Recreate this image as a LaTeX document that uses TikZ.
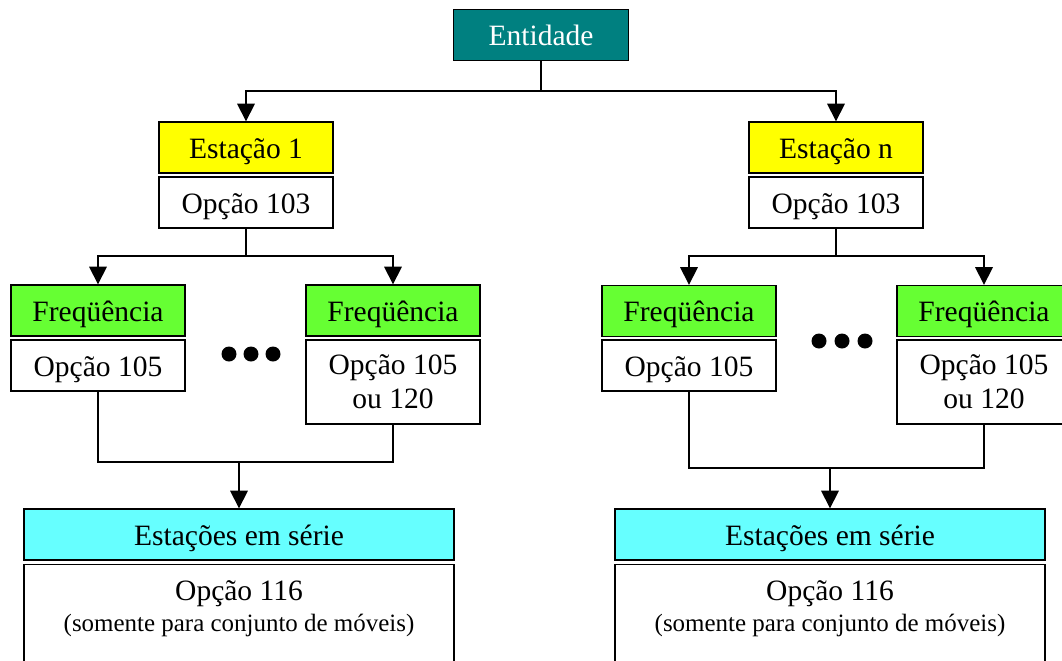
\documentclass[tikz,border=0pt]{standalone}
\usepackage{fontspec}
\setmainfont{Liberation Serif}
\usetikzlibrary{arrows.meta}

\definecolor{entcolor}{RGB}{0,128,128}
\definecolor{estcolor}{RGB}{255,255,0}
\definecolor{frqcolor}{RGB}{102,255,51}
\definecolor{sercolor}{RGB}{102,255,255}

\begin{document}
\begin{tikzpicture} [x = 0.02cm, y = -0.02cm,
  box/.style = {draw = black, line width = 0.8pt, inner sep = 0pt, minimum width = 3.48cm, minimum height = 1.02cm, align = center, font = \fontsize{16.8}{19.5}\selectfont},
  one/.style = {box, text height = 0.42cm, text depth = 0pt},
  arr/.style = {-{Triangle[width = 10pt, length = 10pt]}, line width = 0.9pt},
  line/.style = {line width = 0.9pt}]
\path[use as bounding box, clip] (0, 0) rectangle (1062, 660);
% top
\node[one, fill = entcolor, text = white, minimum width = 3.5cm] (ent) at (541, 35){Entidade};
\coordinate (top) at (541, 91);
% left station
\node[one, fill = estcolor] (est1) at (246, 147.5){Estação 1};
\node[one, fill = white] (op1) at (246, 202.5){Opção 103};
\coordinate (b1) at (246, 256);
\node[one, fill = frqcolor] (frq1a) at (98, 310.5){Freqüência};
\node[one, fill = white] (op1a) at (98, 365.5){Opção 105};
\node[one, fill = frqcolor] (frq1b) at (393, 310.5){Freqüência};
\node[box, fill = white, minimum height = 1.68cm] (op1b) at (393, 382){Opção 105\\ou 120};
\coordinate (j1) at (239, 462);
\node[one, fill = sercolor, minimum width = 8.6cm] (ser1) at (239, 534.5){Estações em série};
\node[box, fill = white, minimum width = 8.6cm, minimum height = 2.8cm, anchor = north] (op1c) at (239, 564){};
\node[align = center, anchor = north, inner sep = 0pt, font = \fontsize{16.8}{17.6}\selectfont] (txt1) at (239, 580){Opção 116\\{\fontsize{14.2}{17}\selectfont (somente para conjunto de móveis)}};
% right station
\node[one, fill = estcolor] (estn) at (836, 147.5){Estação n};
\node[one, fill = white] (opn) at (836, 202.5){Opção 103};
\coordinate (b2) at (836, 256);
\node[one, fill = frqcolor] (frq2a) at (689, 311){Freqüência};
\node[one, fill = white] (op2a) at (689, 365.5){Opção 105};
\node[one, fill = frqcolor] (frq2b) at (984, 311){Freqüência};
\node[box, fill = white, minimum height = 1.68cm] (op2b) at (984, 382){Opção 105\\ou 120};
\coordinate (j2) at (830, 468);
\node[one, fill = sercolor, minimum width = 8.6cm] (ser2) at (830, 534.5){Estações em série};
\node[box, fill = white, minimum width = 8.6cm, minimum height = 2.8cm, anchor = north] (op2c) at (830, 564){};
\node[align = center, anchor = north, inner sep = 0pt, font = \fontsize{16.8}{17.6}\selectfont] (txt2) at (830, 580){Opção 116\\{\fontsize{14.2}{17}\selectfont (somente para conjunto de móveis)}};
% dots
\foreach \x in {229, 251, 273} \fill[black] (\x, 354) circle [radius = 0.15cm];
\foreach \x in {819, 842, 865} \fill[black] (\x, 341) circle [radius = 0.15cm];
% connectors
\draw[line] (ent) -- (top);
\draw[arr] (top) -| (est1);
\draw[arr] (top) -| (estn);
\draw[line] (op1) -- (b1);
\draw[arr] (b1) -| (frq1a);
\draw[arr] (b1) -| (frq1b);
\draw[line] (op1a) |- (j1);
\draw[line] (op1b) |- (j1);
\draw[arr] (j1) -- (ser1);
\draw[line] (opn) -- (b2);
\draw[arr] (b2) -| (frq2a);
\draw[arr] (b2) -| (frq2b);
\draw[line] (op2a) |- (j2);
\draw[line] (op2b) |- (j2);
\draw[arr] (j2) -- (ser2);
\end{tikzpicture}
\end{document}
